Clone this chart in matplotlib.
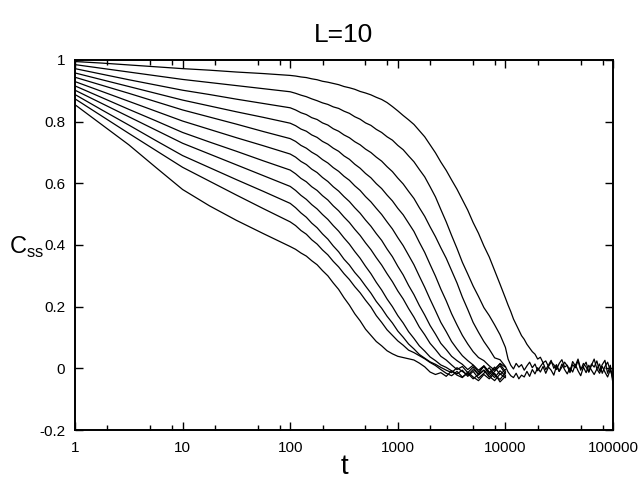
import numpy as np
import matplotlib
matplotlib.use("Agg")
import matplotlib.pyplot as plt
from matplotlib.ticker import FixedLocator, NullFormatter

plt.rcParams['font.family'] = ['Liberation Sans', 'DejaVu Sans']
plt.rcParams['mathtext.fontset'] = 'custom'
plt.rcParams['mathtext.rm'] = 'Liberation Sans'

# ---------------- data ----------------
title = "L=10"
x_label = "t"
x_tick_values = [1, 10, 100, 1000, 10000, 100000]
x_tick_labels = ["1", "10", "100", "1000", "10000", "100000"]
y_tick_values = [-0.2, 0, 0.2, 0.4, 0.6, 0.8, 1.0]
y_tick_labels = ["-0.2", "0", "0.2", "0.4", "0.6", "0.8", "1"]

# log10(t) sample positions shared by all curves (t = 1 ... 10^4)
log_t = [0, 0.25, 0.5, 0.75, 1.0, 1.25, 1.5, 1.75, 2.0,
         2.05, 2.1, 2.15, 2.2, 2.25, 2.3, 2.35, 2.4, 2.45, 2.5,
         2.55, 2.6, 2.65, 2.7, 2.75, 2.8, 2.85, 2.9, 2.95, 3.0,
         3.05, 3.1, 3.15, 3.2, 3.25, 3.3, 3.35, 3.4, 3.45, 3.5,
         3.55, 3.6, 3.65, 3.7, 3.75, 3.8, 3.85, 3.9, 3.95, 4.0]

c1 = [0.995, 0.990, 0.984, 0.978, 0.972, 0.967, 0.961, 0.956, 0.950,
      0.948, 0.945, 0.943, 0.939, 0.936, 0.931, 0.928, 0.924, 0.920, 0.914,
      0.910, 0.905, 0.898, 0.893, 0.887, 0.879, 0.872, 0.862, 0.849, 0.835,
      0.820, 0.806, 0.791, 0.771, 0.751, 0.725, 0.699, 0.669, 0.642, 0.611,
      0.581, 0.547, 0.513, 0.473, 0.438, 0.397, 0.361, 0.317, 0.273, 0.228]
c2 = [0.985, 0.973, 0.961, 0.949, 0.937, 0.927, 0.917, 0.907, 0.897,
      0.892, 0.886, 0.881, 0.874, 0.868, 0.861, 0.856, 0.848, 0.843, 0.834,
      0.827, 0.816, 0.808, 0.796, 0.788, 0.775, 0.765, 0.751, 0.740, 0.723,
      0.709, 0.689, 0.670, 0.645, 0.621, 0.589, 0.556, 0.515, 0.475, 0.431,
      0.389, 0.344, 0.306, 0.267, 0.233, 0.197, 0.171, 0.141, 0.109, 0.068]
c3 = [0.972, 0.954, 0.936, 0.919, 0.902, 0.888, 0.873, 0.859, 0.845,
      0.838, 0.829, 0.823, 0.813, 0.807, 0.796, 0.789, 0.777, 0.769, 0.757,
      0.748, 0.735, 0.725, 0.711, 0.700, 0.685, 0.672, 0.654, 0.638, 0.617,
      0.598, 0.574, 0.551, 0.521, 0.493, 0.459, 0.427, 0.391, 0.357, 0.317,
      0.277, 0.231, 0.191, 0.149, 0.117, 0.087, 0.062, 0.034, 0.028, 0.006]
c4 = [0.958, 0.936, 0.914, 0.892, 0.870, 0.851, 0.832, 0.814, 0.795,
      0.787, 0.776, 0.769, 0.757, 0.749, 0.736, 0.727, 0.714, 0.704, 0.689,
      0.678, 0.662, 0.649, 0.632, 0.618, 0.599, 0.583, 0.562, 0.543, 0.519,
      0.498, 0.471, 0.444, 0.409, 0.376, 0.337, 0.299, 0.257, 0.219, 0.177,
      0.141, 0.107, 0.079, 0.054, 0.035, 0.025, 0.008, -0.006, 0.016, 0.004]
c5 = [0.944, 0.918, 0.892, 0.865, 0.838, 0.815, 0.792, 0.768, 0.745,
      0.736, 0.723, 0.714, 0.701, 0.691, 0.677, 0.666, 0.651, 0.639, 0.623,
      0.610, 0.592, 0.577, 0.557, 0.540, 0.519, 0.499, 0.475, 0.452, 0.424,
      0.398, 0.367, 0.336, 0.299, 0.263, 0.224, 0.187, 0.149, 0.119, 0.087,
      0.063, 0.041, 0.025, 0.011, -0.006, 0.008, -0.014, 0.004, -0.020, -0.004]
c6 = [0.930, 0.898, 0.866, 0.834, 0.802, 0.775, 0.748, 0.722, 0.695,
      0.685, 0.671, 0.661, 0.646, 0.635, 0.619, 0.606, 0.589, 0.575, 0.557,
      0.541, 0.521, 0.503, 0.481, 0.461, 0.437, 0.415, 0.387, 0.362, 0.331,
      0.303, 0.269, 0.239, 0.204, 0.173, 0.139, 0.111, 0.081, 0.061, 0.039,
      0.025, 0.013, -0.004, 0.010, -0.012, 0.006, -0.020, -0.002, 0.014, -0.010]
c7 = [0.916, 0.878, 0.840, 0.803, 0.765, 0.734, 0.704, 0.673, 0.643,
      0.631, 0.616, 0.605, 0.589, 0.577, 0.560, 0.546, 0.527, 0.511, 0.491,
      0.473, 0.451, 0.431, 0.407, 0.385, 0.359, 0.335, 0.307, 0.281, 0.251,
      0.225, 0.194, 0.166, 0.134, 0.109, 0.081, 0.061, 0.039, 0.027, 0.011,
      -0.004, 0.006, -0.014, 0.004, -0.022, -0.006, -0.028, -0.010, 0.008, -0.018]
c8 = [0.902, 0.859, 0.816, 0.773, 0.730, 0.695, 0.660, 0.625, 0.590,
      0.577, 0.561, 0.548, 0.531, 0.517, 0.499, 0.483, 0.463, 0.445, 0.423,
      0.403, 0.379, 0.357, 0.331, 0.307, 0.279, 0.254, 0.225, 0.200, 0.171,
      0.147, 0.119, 0.097, 0.073, 0.056, 0.037, 0.025, 0.011, 0.003, -0.008,
      -0.018, -0.006, -0.026, -0.010, -0.032, -0.016, 0.002, -0.022, -0.036, -0.014]
c9 = [0.888, 0.838, 0.789, 0.739, 0.690, 0.651, 0.612, 0.574, 0.535,
      0.521, 0.504, 0.490, 0.471, 0.456, 0.436, 0.419, 0.397, 0.378, 0.354,
      0.335, 0.311, 0.291, 0.267, 0.244, 0.217, 0.195, 0.169, 0.147, 0.121,
      0.101, 0.079, 0.063, 0.045, 0.033, 0.021, 0.013, 0.003, -0.006, -0.014,
      0.002, -0.010, -0.022, -0.004, -0.018, 0.008, -0.012, -0.030, -0.008, -0.024]
c10 = [0.874, 0.818, 0.762, 0.707, 0.652, 0.607, 0.562, 0.518, 0.475,
       0.463, 0.447, 0.435, 0.417, 0.403, 0.384, 0.368, 0.347, 0.329, 0.307,
       0.288, 0.265, 0.245, 0.221, 0.199, 0.171, 0.149, 0.125, 0.107, 0.089,
       0.075, 0.059, 0.051, 0.041, 0.031, 0.019, 0.009, -0.004, -0.016, -0.024,
       -0.010, -0.028, -0.016, -0.034, -0.020, -0.006, -0.026, -0.040, -0.018, -0.030]
c11 = [0.855, 0.790, 0.725, 0.652, 0.580, 0.527, 0.480, 0.437, 0.395,
       0.386, 0.374, 0.364, 0.349, 0.336, 0.317, 0.300, 0.277, 0.256, 0.229,
       0.205, 0.177, 0.154, 0.127, 0.107, 0.087, 0.073, 0.057, 0.047, 0.039,
       0.035, 0.031, 0.027, 0.017, 0.005, -0.012, -0.020, -0.014, -0.026, -0.008,
       -0.022, -0.030, -0.012, -0.028, -0.040, -0.020, -0.034, -0.016, -0.044, -0.026]

# long-time tails (t = 10^4.025 ... 10^5) of the three slowest curves
log_t_tail = [round(4.0 + 0.025 * k, 3) for k in range(1, 41)]
c1_tail = [0.205, 0.184, 0.160, 0.142, 0.124, 0.106, 0.094, 0.078, 0.066, 0.054,
           0.046, 0.030, 0.036, 0.018, 0.024, 0.006, 0.020, 0.012, -0.004, 0.016,
           0.028, 0.004, 0.010, -0.010, 0.022, 0.008, 0.030, -0.002, 0.006, 0.020,
           -0.012, 0.014, 0.004, 0.024, -0.008, 0.012, 0.026, -0.016, 0.010, -0.050]
c2_tail = [0.030, 0.010, -0.002, 0.016, 0.004, 0.012, -0.006, 0.008, 0.020, 0.002,
           0.014, -0.008, 0.006, 0.018, -0.004, 0.010, 0.026, 0.000, 0.012, -0.010,
           0.004, 0.020, 0.008, -0.014, 0.012, 0.002, 0.024, -0.006, 0.016, 0.004,
           -0.012, 0.010, 0.030, -0.002, 0.014, -0.016, 0.006, 0.020, -0.008, -0.020]
c3_tail = [-0.012, -0.024, -0.030, -0.016, -0.034, -0.022, -0.028, -0.010, -0.026, -0.004,
           -0.018, 0.002, -0.012, 0.006, -0.016, 0.004, -0.006, -0.022, 0.008, -0.010,
           0.014, -0.004, -0.018, 0.002, -0.012, 0.012, -0.008, -0.024, 0.004, -0.014,
           0.010, -0.006, -0.020, -0.002, -0.016, 0.006, -0.012, -0.028, -0.004, -0.036]

# ---------------- plot ----------------
fig = plt.figure(figsize=(6.4, 4.8), dpi=100)
ax = fig.add_axes([75 / 640, 50 / 480, 538 / 640, 370 / 480])

t_main = 10 ** np.array(log_t)
t_long = 10 ** np.array(log_t + log_t_tail)

for main, tail in [(c1, c1_tail), (c2, c2_tail), (c3, c3_tail)]:
    ax.plot(t_long, main + tail, color='black', lw=0.9)
for c in [c4, c5, c6, c7, c8, c9, c10, c11]:
    ax.plot(t_main, c, color='black', lw=0.9)

ax.set_xscale('log')
ax.set_xlim(1, 1e5)
ax.set_ylim(-0.2, 1.0)

ax.xaxis.set_major_locator(FixedLocator(x_tick_values))
ax.set_xticklabels(x_tick_labels)
minor = [m * 10 ** k for k in range(5) for m in (2, 5, 8)]
ax.xaxis.set_minor_locator(FixedLocator(minor))
ax.xaxis.set_minor_formatter(NullFormatter())
ax.set_yticks(y_tick_values)
ax.set_yticklabels(y_tick_labels)

ax.tick_params(which='both', direction='in', top=True, right=True, labelsize=11)
ax.tick_params(which='major', length=6, width=1.0)
ax.tick_params(axis='x', which='major', pad=8)
ax.tick_params(axis='y', which='major', pad=7)
ax.tick_params(which='minor', length=3.5, width=1.0)
for s in ax.spines.values():
    s.set_linewidth(1.4)

ax.set_title(title, fontsize=19, pad=13)
ax.set_xlabel(x_label, fontsize=20, labelpad=-1)
fig.text(27 / 640, 1 - 247 / 480, r'C$_{\mathrm{ss}}$', fontsize=17,
         ha='center', va='center')

fig.savefig('out.png', dpi=100)
